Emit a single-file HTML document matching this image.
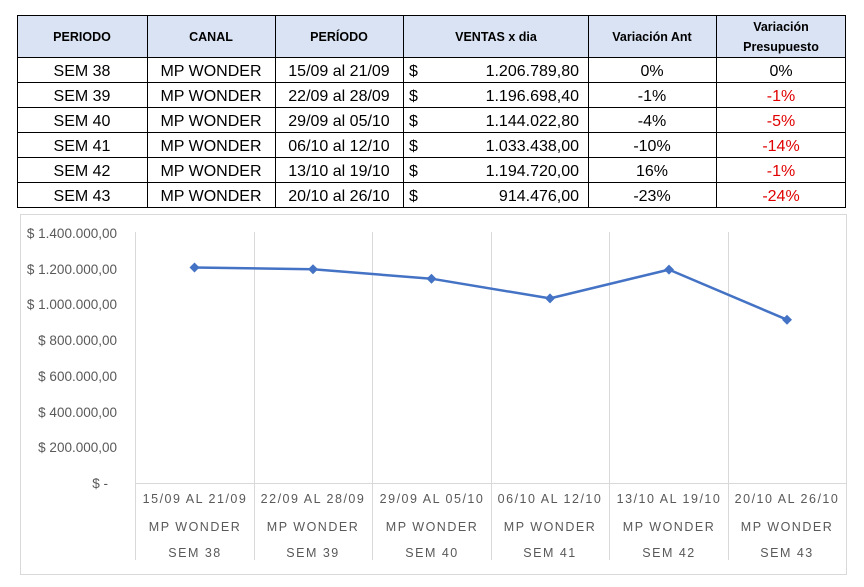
<!DOCTYPE html>
<html><head><meta charset="utf-8"><style>
body{margin:0;background:#fff;width:864px;height:587px;overflow:hidden}
svg{display:block}
.t{font-family:"Liberation Sans",sans-serif}
</style></head><body>
<svg width="864" height="587" xmlns="http://www.w3.org/2000/svg" class="t">
<rect x="17" y="15" width="828" height="42" fill="#dae3f3"/>
<g stroke="#000" stroke-width="1" fill="none">
<rect x="17.5" y="15.5" width="828" height="192"/>
<line x1="17" y1="57.5" x2="845" y2="57.5"/>
<line x1="17" y1="82.5" x2="845" y2="82.5"/>
<line x1="17" y1="107.5" x2="845" y2="107.5"/>
<line x1="17" y1="132.5" x2="845" y2="132.5"/>
<line x1="17" y1="157.5" x2="845" y2="157.5"/>
<line x1="17" y1="182.5" x2="845" y2="182.5"/>
<line x1="147.5" y1="15" x2="147.5" y2="207"/>
<line x1="275.5" y1="15" x2="275.5" y2="207"/>
<line x1="403.5" y1="15" x2="403.5" y2="207"/>
<line x1="588.5" y1="15" x2="588.5" y2="207"/>
<line x1="716.5" y1="15" x2="716.5" y2="207"/>
</g>
<g font-weight="bold" font-size="12.5" text-anchor="middle" fill="#000">
<text x="82" y="41">PERIODO</text>
<text x="211" y="41">CANAL</text>
<text x="339" y="41">PERÍODO</text>
<text x="496" y="41">VENTAS x dia</text>
<text x="652" y="41">Variación Ant</text>
<text x="781" y="31">Variación</text>
<text x="781" y="51">Presupuesto</text>
</g>
<g font-size="16" fill="#000">
<g text-anchor="middle">
<text x="82" y="76">SEM 38</text><text x="82" y="101">SEM 39</text><text x="82" y="126">SEM 40</text><text x="82" y="151">SEM 41</text><text x="82" y="176">SEM 42</text><text x="82" y="201">SEM 43</text>
<text x="211" y="76">MP WONDER</text><text x="211" y="101">MP WONDER</text><text x="211" y="126">MP WONDER</text><text x="211" y="151">MP WONDER</text><text x="211" y="176">MP WONDER</text><text x="211" y="201">MP WONDER</text>
<text x="339" y="76">15/09 al 21/09</text><text x="339" y="101">22/09 al 28/09</text><text x="339" y="126">29/09 al 05/10</text><text x="339" y="151">06/10 al 12/10</text><text x="339" y="176">13/10 al 19/10</text><text x="339" y="201">20/10 al 26/10</text>
<text x="652" y="76">0%</text><text x="652" y="101">-1%</text><text x="652" y="126">-4%</text><text x="652" y="151">-10%</text><text x="652" y="176">16%</text><text x="652" y="201">-23%</text>
<text x="781" y="76">0%</text>
<g fill="#e00000"><text x="781" y="101">-1%</text><text x="781" y="126">-5%</text><text x="781" y="151">-14%</text><text x="781" y="176">-1%</text><text x="781" y="201">-24%</text></g>
</g>
<g><text x="409" y="76">$</text><text x="409" y="101">$</text><text x="409" y="126">$</text><text x="409" y="151">$</text><text x="409" y="176">$</text><text x="409" y="201">$</text></g>
<g text-anchor="end">
<text x="579" y="76">1.206.789,80</text><text x="579" y="101">1.196.698,40</text><text x="579" y="126">1.144.022,80</text><text x="579" y="151">1.033.438,00</text><text x="579" y="176">1.194.720,00</text><text x="579" y="201">914.476,00</text>
</g>
</g>
<rect x="20.5" y="214.5" width="826" height="360" fill="none" stroke="#d9d9d9"/>
<g stroke="#d9d9d9" stroke-width="1">
<line x1="135.5" y1="232" x2="135.5" y2="560"/>
<line x1="254.5" y1="232" x2="254.5" y2="560"/>
<line x1="372.5" y1="232" x2="372.5" y2="560"/>
<line x1="491.5" y1="232" x2="491.5" y2="560"/>
<line x1="609.5" y1="232" x2="609.5" y2="560"/>
<line x1="728.5" y1="232" x2="728.5" y2="560"/>
<line x1="846.5" y1="232" x2="846.5" y2="560"/>
<line x1="135" y1="483.5" x2="846" y2="483.5"/>
</g>
<g font-size="13.5" fill="#595959" text-anchor="end">
<text x="117" y="238">$ 1.400.000,00</text>
<text x="117" y="274">$ 1.200.000,00</text>
<text x="117" y="309">$ 1.000.000,00</text>
<text x="117" y="345">$ 800.000,00</text>
<text x="117" y="381">$ 600.000,00</text>
<text x="117" y="417">$ 400.000,00</text>
<text x="117" y="452">$ 200.000,00</text>
<text x="108" y="488">$ -</text>
</g>
<g font-size="12.5" fill="#595959" text-anchor="middle" letter-spacing="1.5">
<text x="195" y="503">15/09 AL 21/09</text><text x="313" y="503">22/09 AL 28/09</text><text x="432" y="503">29/09 AL 05/10</text><text x="550" y="503">06/10 AL 12/10</text><text x="669" y="503">13/10 AL 19/10</text><text x="787" y="503">20/10 AL 26/10</text>
<text x="195" y="531">MP WONDER</text><text x="313" y="531">MP WONDER</text><text x="432" y="531">MP WONDER</text><text x="550" y="531">MP WONDER</text><text x="669" y="531">MP WONDER</text><text x="787" y="531">MP WONDER</text>
<text x="195" y="557">SEM 38</text><text x="313" y="557">SEM 39</text><text x="432" y="557">SEM 40</text><text x="550" y="557">SEM 41</text><text x="669" y="557">SEM 42</text><text x="787" y="557">SEM 43</text>
</g>
<polyline fill="none" stroke="#4472c4" stroke-width="2.5" stroke-linejoin="round" points="194.5,267.5 313,269.3 431.5,278.7 550,298.4 669,269.6 787,319.7"/>
<g fill="#4472c4">
<path d="M194.5 262.5l5 5-5 5-5-5z"/><path d="M313 264.3l5 5-5 5-5-5z"/><path d="M431.5 273.7l5 5-5 5-5-5z"/><path d="M550 293.4l5 5-5 5-5-5z"/><path d="M669 264.6l5 5-5 5-5-5z"/><path d="M787 314.7l5 5-5 5-5-5z"/>
</g>
</svg>
</body></html>
